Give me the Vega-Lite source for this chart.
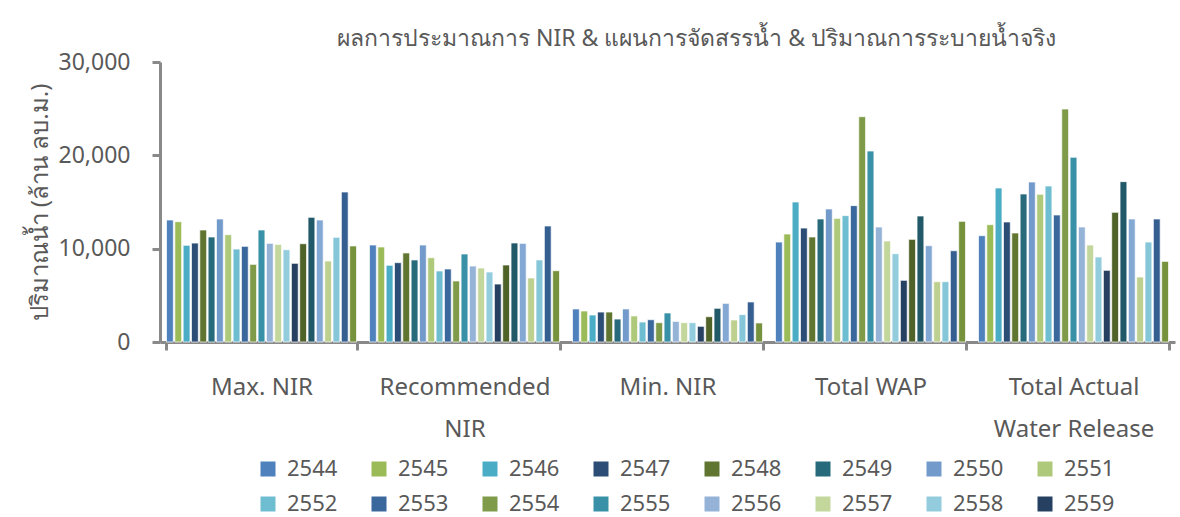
{
  "$schema": "https://vega.github.io/schema/vega-lite/v6.json",
  "width": 1015,
  "height": 280,
  "autosize": {"type": "none"},
  "padding": {"left": 160, "top": 62, "right": 5, "bottom": 175},
  "background": "white",
  "title": {
    "text": "ผลการประมาณการ NIR & แผนการจัดสรรน้ำ & ปริมาณการระบายน้ำจริง",
    "fontSize": 23,
    "fontWeight": "normal",
    "color": "#595959",
    "font": "Noto Sans",
    "anchor": "middle",
    "dx": 29,
    "offset": 0
  },
  "datasets": {
    "d": [
      {"cat": "Max. NIR", "year": "2544", "v": 13070},
      {"cat": "Max. NIR", "year": "2545", "v": 12890},
      {"cat": "Max. NIR", "year": "2546", "v": 10360},
      {"cat": "Max. NIR", "year": "2547", "v": 10600},
      {"cat": "Max. NIR", "year": "2548", "v": 12000},
      {"cat": "Max. NIR", "year": "2549", "v": 11250},
      {"cat": "Max. NIR", "year": "2550", "v": 13180},
      {"cat": "Max. NIR", "year": "2551", "v": 11500},
      {"cat": "Max. NIR", "year": "2552", "v": 9960},
      {"cat": "Max. NIR", "year": "2553", "v": 10250},
      {"cat": "Max. NIR", "year": "2554", "v": 8320},
      {"cat": "Max. NIR", "year": "2555", "v": 12000},
      {"cat": "Max. NIR", "year": "2556", "v": 10570},
      {"cat": "Max. NIR", "year": "2557", "v": 10460},
      {"cat": "Max. NIR", "year": "2558", "v": 9890},
      {"cat": "Max. NIR", "year": "2559", "v": 8430},
      {"cat": "Max. NIR", "year": "2560", "v": 10530},
      {"cat": "Max. NIR", "year": "2561", "v": 13360},
      {"cat": "Max. NIR", "year": "2562", "v": 13070},
      {"cat": "Max. NIR", "year": "2563", "v": 8680},
      {"cat": "Max. NIR", "year": "2564", "v": 11220},
      {"cat": "Max. NIR", "year": "2565", "v": 16070},
      {"cat": "Max. NIR", "year": "2566", "v": 10290},
      {"cat": "Recommended NIR", "year": "2544", "v": 10390},
      {"cat": "Recommended NIR", "year": "2545", "v": 10180},
      {"cat": "Recommended NIR", "year": "2546", "v": 8220},
      {"cat": "Recommended NIR", "year": "2547", "v": 8500},
      {"cat": "Recommended NIR", "year": "2548", "v": 9540},
      {"cat": "Recommended NIR", "year": "2549", "v": 8790},
      {"cat": "Recommended NIR", "year": "2550", "v": 10390},
      {"cat": "Recommended NIR", "year": "2551", "v": 9030},
      {"cat": "Recommended NIR", "year": "2552", "v": 7610},
      {"cat": "Recommended NIR", "year": "2553", "v": 7820},
      {"cat": "Recommended NIR", "year": "2554", "v": 6540},
      {"cat": "Recommended NIR", "year": "2555", "v": 9430},
      {"cat": "Recommended NIR", "year": "2556", "v": 8140},
      {"cat": "Recommended NIR", "year": "2557", "v": 7930},
      {"cat": "Recommended NIR", "year": "2558", "v": 7500},
      {"cat": "Recommended NIR", "year": "2559", "v": 6210},
      {"cat": "Recommended NIR", "year": "2560", "v": 8250},
      {"cat": "Recommended NIR", "year": "2561", "v": 10610},
      {"cat": "Recommended NIR", "year": "2562", "v": 10570},
      {"cat": "Recommended NIR", "year": "2563", "v": 6860},
      {"cat": "Recommended NIR", "year": "2564", "v": 8790},
      {"cat": "Recommended NIR", "year": "2565", "v": 12430},
      {"cat": "Recommended NIR", "year": "2566", "v": 7640},
      {"cat": "Min. NIR", "year": "2544", "v": 3540},
      {"cat": "Min. NIR", "year": "2545", "v": 3320},
      {"cat": "Min. NIR", "year": "2546", "v": 2890},
      {"cat": "Min. NIR", "year": "2547", "v": 3210},
      {"cat": "Min. NIR", "year": "2548", "v": 3210},
      {"cat": "Min. NIR", "year": "2549", "v": 2460},
      {"cat": "Min. NIR", "year": "2550", "v": 3540},
      {"cat": "Min. NIR", "year": "2551", "v": 2790},
      {"cat": "Min. NIR", "year": "2552", "v": 2140},
      {"cat": "Min. NIR", "year": "2553", "v": 2390},
      {"cat": "Min. NIR", "year": "2554", "v": 2070},
      {"cat": "Min. NIR", "year": "2555", "v": 3110},
      {"cat": "Min. NIR", "year": "2556", "v": 2210},
      {"cat": "Min. NIR", "year": "2557", "v": 2070},
      {"cat": "Min. NIR", "year": "2558", "v": 2070},
      {"cat": "Min. NIR", "year": "2559", "v": 1680},
      {"cat": "Min. NIR", "year": "2560", "v": 2710},
      {"cat": "Min. NIR", "year": "2561", "v": 3610},
      {"cat": "Min. NIR", "year": "2562", "v": 4140},
      {"cat": "Min. NIR", "year": "2563", "v": 2360},
      {"cat": "Min. NIR", "year": "2564", "v": 2930},
      {"cat": "Min. NIR", "year": "2565", "v": 4290},
      {"cat": "Min. NIR", "year": "2566", "v": 2040},
      {"cat": "Total WAP", "year": "2544", "v": 10710},
      {"cat": "Total WAP", "year": "2545", "v": 11570},
      {"cat": "Total WAP", "year": "2546", "v": 15000},
      {"cat": "Total WAP", "year": "2547", "v": 12210},
      {"cat": "Total WAP", "year": "2548", "v": 11250},
      {"cat": "Total WAP", "year": "2549", "v": 13180},
      {"cat": "Total WAP", "year": "2550", "v": 14250},
      {"cat": "Total WAP", "year": "2551", "v": 13250},
      {"cat": "Total WAP", "year": "2552", "v": 13540},
      {"cat": "Total WAP", "year": "2553", "v": 14610},
      {"cat": "Total WAP", "year": "2554", "v": 24140},
      {"cat": "Total WAP", "year": "2555", "v": 20460},
      {"cat": "Total WAP", "year": "2556", "v": 12320},
      {"cat": "Total WAP", "year": "2557", "v": 10820},
      {"cat": "Total WAP", "year": "2558", "v": 9460},
      {"cat": "Total WAP", "year": "2559", "v": 6610},
      {"cat": "Total WAP", "year": "2560", "v": 11000},
      {"cat": "Total WAP", "year": "2561", "v": 13500},
      {"cat": "Total WAP", "year": "2562", "v": 10320},
      {"cat": "Total WAP", "year": "2563", "v": 6460},
      {"cat": "Total WAP", "year": "2564", "v": 6460},
      {"cat": "Total WAP", "year": "2565", "v": 9780},
      {"cat": "Total WAP", "year": "2566", "v": 12930},
      {"cat": "Total Actual Water Release", "year": "2544", "v": 11390},
      {"cat": "Total Actual Water Release", "year": "2545", "v": 12570},
      {"cat": "Total Actual Water Release", "year": "2546", "v": 16500},
      {"cat": "Total Actual Water Release", "year": "2547", "v": 12860},
      {"cat": "Total Actual Water Release", "year": "2548", "v": 11680},
      {"cat": "Total Actual Water Release", "year": "2549", "v": 15860},
      {"cat": "Total Actual Water Release", "year": "2550", "v": 17140},
      {"cat": "Total Actual Water Release", "year": "2551", "v": 15820},
      {"cat": "Total Actual Water Release", "year": "2552", "v": 16710},
      {"cat": "Total Actual Water Release", "year": "2553", "v": 13610},
      {"cat": "Total Actual Water Release", "year": "2554", "v": 24960},
      {"cat": "Total Actual Water Release", "year": "2555", "v": 19790},
      {"cat": "Total Actual Water Release", "year": "2556", "v": 12320},
      {"cat": "Total Actual Water Release", "year": "2557", "v": 10390},
      {"cat": "Total Actual Water Release", "year": "2558", "v": 9110},
      {"cat": "Total Actual Water Release", "year": "2559", "v": 7680},
      {"cat": "Total Actual Water Release", "year": "2560", "v": 13890},
      {"cat": "Total Actual Water Release", "year": "2561", "v": 17180},
      {"cat": "Total Actual Water Release", "year": "2562", "v": 13180},
      {"cat": "Total Actual Water Release", "year": "2563", "v": 6960},
      {"cat": "Total Actual Water Release", "year": "2564", "v": 10710},
      {"cat": "Total Actual Water Release", "year": "2565", "v": 13180},
      {"cat": "Total Actual Water Release", "year": "2566", "v": 8640}
    ]
  },
  "data": {"name": "d"},
  "mark": {"type": "bar", "stroke": "white", "strokeWidth": 0.7},
  "encoding": {
    "x": {
      "field": "cat",
      "type": "nominal",
      "sort": null,
      "scale": {"paddingInner": 0.064, "paddingOuter": 0.032},
      "axis": {
        "title": null,
        "labelAngle": 0,
        "labelFontSize": 24,
        "labelFont": "Noto Sans",
        "labelColor": "#595959",
        "labelLineHeight": 42,
        "labelPadding": 25,
        "labelExpr": "datum.label == 'Recommended NIR' ? ['Recommended', 'NIR'] : datum.label == 'Total Actual Water Release' ? ['Total Actual', 'Water Release'] : datum.label",
        "tickBand": "extent",
        "tickSize": 8,
        "tickWidth": 3,
        "tickColor": "#898989",
        "domainColor": "#898989",
        "domainWidth": 3,
        "grid": false
      }
    },
    "xOffset": {
      "field": "year",
      "type": "nominal",
      "scale": {"paddingInner": 0.18, "paddingOuter": 0}
    },
    "y": {
      "field": "v",
      "type": "quantitative",
      "scale": {"domain": [0, 30000], "nice": false},
      "axis": {
        "title": "ปริมาณน้ำ (ล้าน ลบ.ม.)",
        "titleFontSize": 24,
        "titleFontWeight": "normal",
        "titleFont": "Noto Sans",
        "titleColor": "#595959",
        "titlePadding": 6,
        "values": [0, 10000, 20000, 30000],
        "format": ",.0f",
        "labelFontSize": 23,
        "labelFont": "Noto Sans",
        "labelColor": "#595959",
        "labelPadding": 22,
        "tickSize": 8,
        "tickWidth": 3,
        "tickColor": "#898989",
        "domainColor": "#898989",
        "domainWidth": 3,
        "grid": false
      }
    },
    "color": {
      "field": "year",
      "type": "nominal",
      "scale": {
        "domain": ["2544","2545","2546","2547","2548","2549","2550","2551","2552","2553","2554","2555","2556","2557","2558","2559","2560","2561","2562","2563","2564","2565","2566"],
        "range": ["#4F81BD","#9BBB59","#4BACC6","#2C4D75","#5F7530","#276A7C","#729ACA","#AFC97A","#6FBDD1","#3A679C","#7F9A48","#3891A7","#95B3D7","#C3D69B","#93CDDD","#254061","#4F6228","#215968","#84A8D4","#BDD08F","#85C6D8","#365F91","#77923C"]
      },
      "legend": {
        "title": null,
        "orient": "none",
        "legendX": 97,
        "legendY": 396,
        "direction": "horizontal",
        "columns": 8,
        "values": ["2544","2545","2546","2547","2548","2549","2550","2551","2552","2553","2554","2555","2556","2557","2558","2559"],
        "symbolType": "square",
        "symbolSize": 225,
        "symbolStrokeWidth": 0,
        "symbolOpacity": 1,
        "labelFontSize": 22,
        "labelFont": "Noto Sans",
        "labelColor": "#595959",
        "labelOffset": 8,
        "columnPadding": 30,
        "rowPadding": 13
      }
    }
  },
  "config": {"view": {"stroke": null}}
}
